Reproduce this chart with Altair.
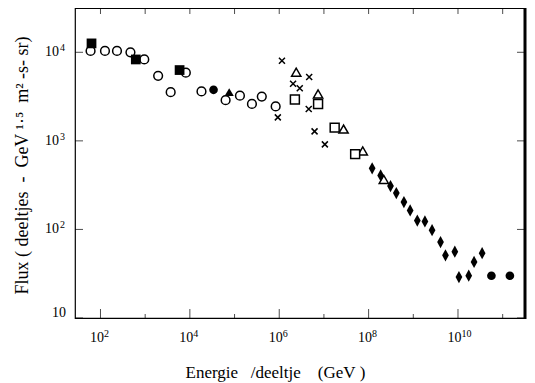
import altair as alt
import pandas as pd

# ---- data (energy in GeV, flux scaled) ----
fsq_E = [63, 617, 5890]
fsq_F = [12600, 8300, 6300]

ocirc_E = [60, 126, 234, 468, 955, 1950, 3720, 8130, 18200, 63100, 132000, 245000, 407000, 832000]
ocirc_F = [10350, 10350, 10350, 10000, 8300, 5430, 3540, 5890, 3610, 2880, 3240, 2610, 3160, 2450]

fcirc_E = [33900, 5.6e10, 1.45e11]
fcirc_F = [3770, 30, 30]

ftri_E = [75900]
ftri_F = [3550]

cross_E = [1.15e6, 9.3e5, 2.04e6, 2.88e6, 4.68e6, 4.57e6, 6.17e6, 1.05e7]
cross_F = [8040, 1840, 4410, 3930, 5250, 2290, 1280, 912]

otri_E = [2.4e6, 7.4e6, 2.75e7, 7.4e7, 2.19e8]
otri_F = [5960, 3390, 1360, 769, 367]

osq_E = [2.24e6, 7.4e6, 1.74e7, 5.0e7]
osq_F = [2930, 2610, 1410, 708]

dia_E = [1.2e8, 1.86e8, 3.09e8, 4.17e8, 6.17e8, 8.5e8, 1.23e9, 1.82e9, 2.63e9,
         4.07e9, 5.25e9, 8.5e9, 1.05e10, 1.74e10, 2.29e10, 3.47e10]
dia_F = [490, 407, 309, 257, 204, 164, 126, 123, 98, 72, 51, 56, 29, 30, 43, 54]

# axis ticks and labels
x_major = [1e2, 1e4, 1e6, 1e8, 1e10]
x_major_exp = ["2", "4", "6", "8", "10"]
x_minor = [1e3, 1e5, 1e7, 1e9, 1e11]
y_major = [10, 100, 1000, 10000]
y_plain = [10]
y_plain_text = ["10"]
y_pow = [100, 1000, 10000]
y_pow_exp = ["2", "3", "4"]

NB = "\u00a0"
x_title = f"Energie{NB*3}/deeltje{NB*4}(GeV{NB})"
y_title = f"Flux ({NB}deeltjes{NB*2}-{NB*2}GeV ¹·⁵{NB*2}m² -s- sr)"

W, H = 450, 310
FONT = "Liberation Serif"

xscale = alt.Scale(type="log", domain=[26.9, 3.16e11], nice=False)
yscale = alt.Scale(type="log", domain=[10, 31623], nice=False)

xaxis = alt.Axis(values=x_major, labels=False, ticks=False, domain=False, grid=False,
                 title=x_title, titleFont=FONT, titleFontSize=17, titleFontWeight="normal",
                 titleColor="black", titleX=200, titleY=59, titleAlign="center",
                 titleBaseline="alphabetic")
yaxis = alt.Axis(values=y_major, labels=False, ticks=False, domain=False, grid=False,
                 title=y_title, titleFont=FONT, titleFontSize=18, titleFontWeight="normal",
                 titleColor="black", titleX=-53, titleY=H / 2 + 2, titleAlign="center",
                 titleBaseline="middle", titleAngle=-90)

X = lambda: alt.X("E:Q", scale=xscale, axis=xaxis)
Y = lambda: alt.Y("F:Q", scale=yscale, axis=yaxis)


def series(E, F, **mark):
    df = pd.DataFrame({"E": E, "F": F})
    return alt.Chart(df).mark_point(opacity=1, **mark).encode(x=X(), y=Y())


diamond_path = "M0,-1L0.55,0L0,1L-0.55,0Z"
x_path = "M-1,-1L1,1M1,-1L-1,1"

layers = [
    series(ocirc_E, ocirc_F, shape="circle", size=76, filled=True, fill="white",
           stroke="black", strokeWidth=1.5),
    series(fsq_E, fsq_F, shape="square", size=95, filled=True, color="black"),
    series(fcirc_E, fcirc_F, shape="circle", size=75, filled=True, color="black"),
    series(ftri_E, ftri_F, shape="triangle-up", size=85, filled=True, color="black"),
    series(cross_E, cross_F, shape=x_path, size=36, filled=False, stroke="black",
           strokeWidth=1.5),
    series(otri_E, otri_F, shape="triangle-up", size=85, filled=True, fill="white",
           stroke="black", strokeWidth=1.5),
    series(osq_E, osq_F, shape="square", size=80, filled=True, fill="white",
           stroke="black", strokeWidth=1.5),
    series(dia_E, dia_F, shape=diamond_path, size=150, filled=True, color="black"),
]


def xticks(vals, size, yv):
    return alt.Chart(pd.DataFrame({"E": vals})).mark_tick(
        orient="vertical", size=size, thickness=1, color="black").encode(
        x=X(), y=alt.value(yv))


def yticks(vals, size, xv):
    return alt.Chart(pd.DataFrame({"F": vals})).mark_tick(
        orient="horizontal", size=size, thickness=1, color="black").encode(
        y=Y(), x=alt.value(xv))


layers += [
    xticks(x_major, 9, H - 4.5),
    xticks(x_minor, 4, H - 2),
    xticks(x_major + x_minor, 6, 3),
    yticks(y_major, 8, 4),
    yticks(y_major, 8, W - 4),
]

# tick labels (base "10" plus a raised exponent)
xlab = pd.DataFrame({"E": x_major, "base": ["10"] * len(x_major), "exp": x_major_exp})
layers += [
    alt.Chart(xlab).mark_text(align="right", baseline="middle", font=FONT, fontSize=14,
                              dx=3.5, color="black").encode(
        x=X(), y=alt.value(H + 20), text="base:N"),
    alt.Chart(xlab).mark_text(align="left", baseline="middle", font=FONT, fontSize=10,
                              dx=3.5, color="black").encode(
        x=X(), y=alt.value(H + 16), text="exp:N"),
]
ylab = pd.DataFrame({"F": y_pow, "base": ["10"] * len(y_pow), "exp": y_pow_exp})
ylab0 = pd.DataFrame({"F": y_plain, "base": y_plain_text})
layers += [
    alt.Chart(ylab).mark_text(align="right", baseline="middle", font=FONT, fontSize=14,
                              color="black").encode(
        y=Y(), x=alt.value(-16), text="base:N"),
    alt.Chart(ylab).mark_text(align="right", baseline="middle", font=FONT, fontSize=10,
                              dy=-4, color="black").encode(
        y=Y(), x=alt.value(-10), text="exp:N"),
    alt.Chart(ylab0).mark_text(align="right", baseline="middle", font=FONT, fontSize=14,
                               dy=-5, color="black").encode(
        y=Y(), x=alt.value(-9), text="base:N"),
]

right_border = alt.Chart(pd.DataFrame({"a": [0]})).mark_rule(
    color="black", strokeWidth=3).encode(
    x=alt.value(W), y=alt.value(0), y2=alt.value(H + 1))
layers.append(right_border)

chart = alt.layer(*layers).properties(
    width=W, height=H,
    autosize=alt.AutoSizeParams(type="none"),
    padding={"left": 67, "top": 0, "right": 2, "bottom": 66},
).configure(background="white").configure_view(stroke="black", strokeWidth=1.2)

chart.save("out.html", embed_options={"renderer": "svg", "actions": False})
